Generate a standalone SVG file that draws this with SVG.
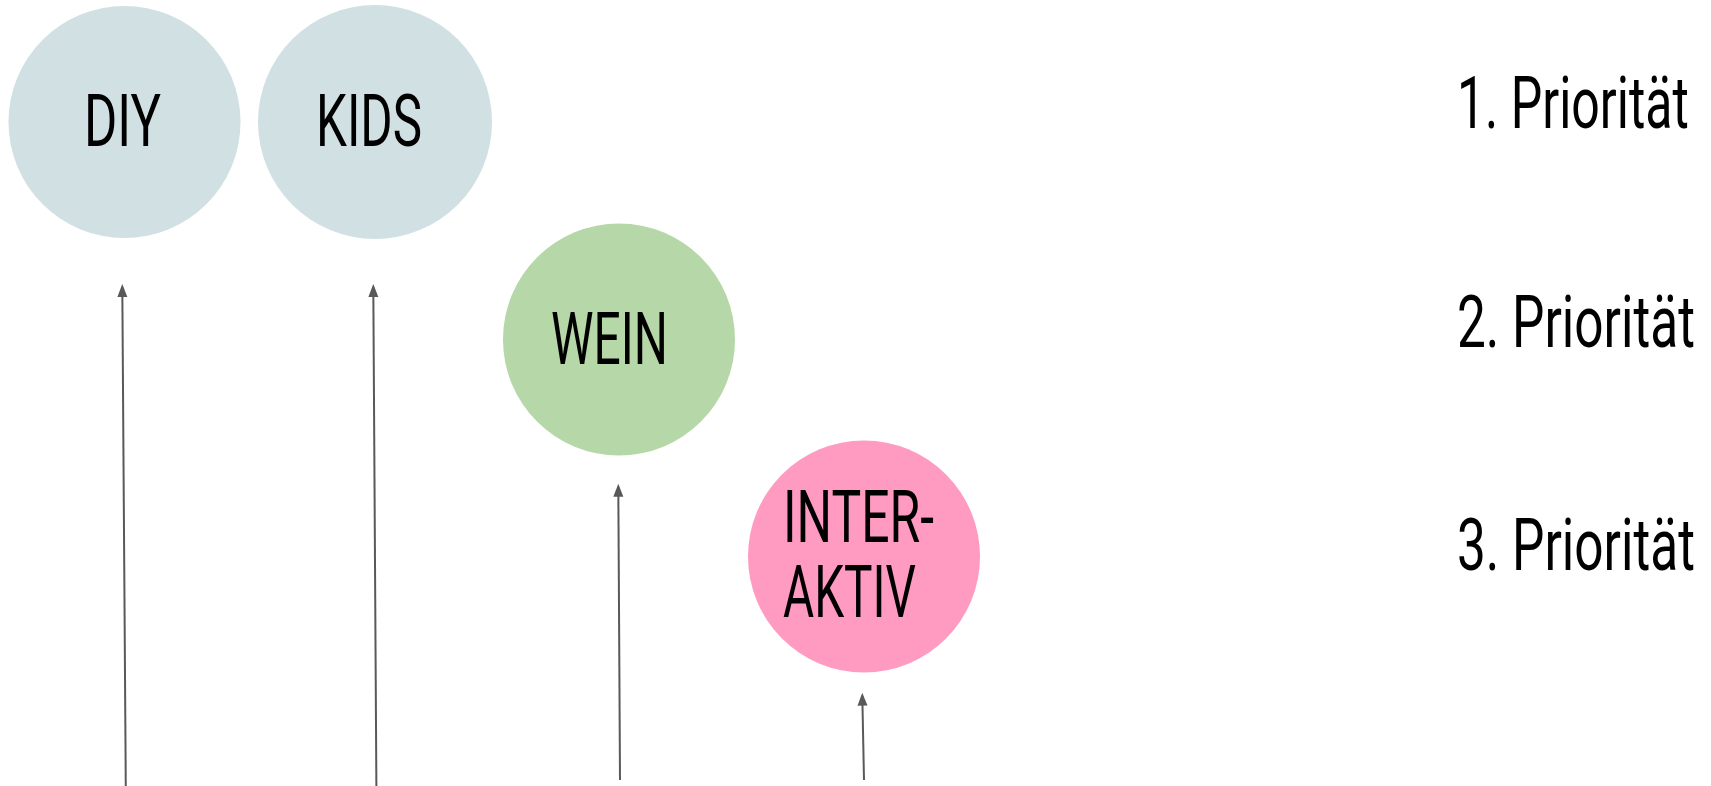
<svg xmlns="http://www.w3.org/2000/svg" width="1711" height="786" viewBox="0 0 1711 786">
  <style>
    .lbl { font-family: Roboto, "Liberation Sans Narrow", "Liberation Sans", sans-serif; font-weight: 400; font-size: 73px; fill: #000; }
    .conn { stroke: #595959; stroke-width: 2; fill: none; marker-end: url(#arr); }
  </style>
  <defs>
    <marker id="arr" markerUnits="userSpaceOnUse" markerWidth="14" markerHeight="12" refX="10" refY="5" orient="auto" viewBox="0 0 14 12">
      <path d="M0,0 L13,5 L0,10 Z" fill="#595959"/>
    </marker>
  </defs>
  <rect width="1711" height="786" fill="#ffffff"/>

  <g id="node-diy">
    <circle cx="124.5" cy="122" r="116" fill="#d0e0e3"/>
    <text class="lbl" x="84" y="145.7" textLength="77" lengthAdjust="spacingAndGlyphs">DIY</text>
  </g>
  <g id="node-kids">
    <circle cx="375" cy="122" r="117" fill="#d0e0e3"/>
    <text class="lbl" x="316" y="145.7" textLength="106" lengthAdjust="spacingAndGlyphs">KIDS</text>
  </g>
  <g id="node-wein">
    <circle cx="619" cy="339.5" r="116" fill="#b6d7a8"/>
    <text class="lbl" x="551" y="364" textLength="117" lengthAdjust="spacingAndGlyphs">WEIN</text>
  </g>
  <g id="node-interaktiv">
    <circle cx="864" cy="556.5" r="116" fill="#ff9ac1"/>
    <text class="lbl" x="783" y="541.7" textLength="151" lengthAdjust="spacingAndGlyphs">INTER-</text>
    <text class="lbl" x="783" y="617.3" textLength="133" lengthAdjust="spacingAndGlyphs">AKTIV</text>
  </g>

  <g id="priority-labels">
    <text class="lbl" transform="translate(1457 127.5) scale(0.686 1)" x="0" y="0" textLength="338" lengthAdjust="spacingAndGlyphs">1. Priorität</text>
    <text class="lbl" transform="translate(1457 346.7) scale(0.704 1)" x="0" y="0" textLength="338" lengthAdjust="spacingAndGlyphs">2. Priorität</text>
    <text class="lbl" transform="translate(1457 570) scale(0.704 1)" x="0" y="0" textLength="338" lengthAdjust="spacingAndGlyphs">3. Priorität</text>
  </g>

  <g id="connectors">
    <line class="conn" x1="125.8" y1="790" x2="122.3" y2="287"/>
    <line class="conn" x1="376.4" y1="790" x2="373.3" y2="287"/>
    <line class="conn" x1="620" y1="780" x2="618.3" y2="486.7"/>
    <line class="conn" x1="864" y1="780" x2="862.3" y2="695.7"/>
  </g>
</svg>
